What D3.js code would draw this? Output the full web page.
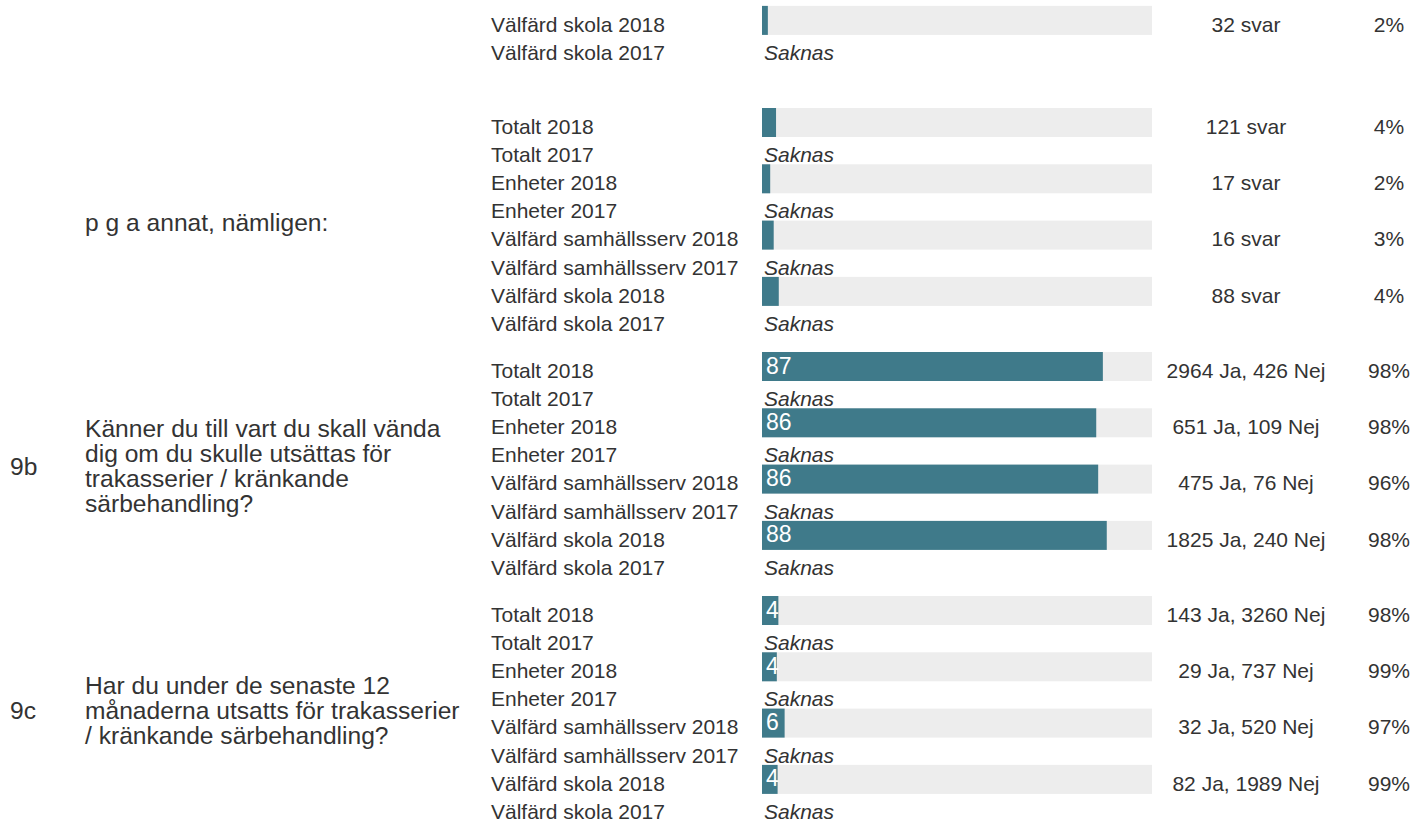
<!DOCTYPE html>
<html>
<head>
<meta charset="utf-8">
<script src="https://cdn.jsdelivr.net/npm/d3@7"></script>
<style>
  body { margin: 0; background: #fff; }
  svg { display: block; font-family: "Liberation Sans", Arial, sans-serif; }
  .txt { fill: #333; }
</style>
</head>
<body>
<svg id="chart"></svg>
<script>
// Groups shown for every question, each with a 2018 row and a 2017 row
const groups = ["Totalt", "Enheter", "Välfärd samhällsserv", "Välfärd skola"];
const years = ["2018", "2017"];

// Questions (first one is cut off at the top of the page)
const questionIds = ["", "", "9b", "9c"];
const questionLines = [
  [],
  ["p g a annat, nämligen:"],
  ["Känner du till vart du skall vända", "dig om du skulle utsättas för", "trakasserier / kränkande", "särbehandling?"],
  ["Har du under de senaste 12", "månaderna utsatts för trakasserier", "/ kränkande särbehandling?"],
];

// Bar values for 2018 (percent), null = row not visible
const values2018 = [
  [null, null, null, 1.5],
  [3.6, 2.1, 3.0, 4.3],
  [87.4, 85.7, 86.2, 88.4],
  [4.2, 3.8, 5.8, 4.0],
];
const showValueLabel = [false, false, true, true];

const counts2018 = [
  [null, null, null, "32 svar"],
  ["121 svar", "17 svar", "16 svar", "88 svar"],
  ["2964 Ja, 426 Nej", "651 Ja, 109 Nej", "475 Ja, 76 Nej", "1825 Ja, 240 Nej"],
  ["143 Ja, 3260 Nej", "29 Ja, 737 Nej", "32 Ja, 520 Nej", "82 Ja, 1989 Nej"],
];
const responseRates2018 = [
  [null, null, null, "2%"],
  ["4%", "2%", "3%", "4%"],
  ["98%", "98%", "96%", "98%"],
  ["98%", "99%", "97%", "99%"],
];
const missingText = "Saknas";

class SurveyBars {
  constructor(_config) {
    this.config = {
      parentElement: _config.parentElement,
      containerWidth: _config.containerWidth || 1427,
      containerHeight: _config.containerHeight || 823,
      sectionTops: _config.sectionTops,
      rowStep: _config.rowStep || 28.15,
      barHeight: _config.barHeight || 29,
    };
    this.initVis();
  }

  initVis() {
    let vis = this;

    vis.svg = d3
      .select(vis.config.parentElement)
      .attr("width", vis.config.containerWidth)
      .attr("height", vis.config.containerHeight);

    // bar track runs from 762 to 1152
    vis.xScale = d3.scaleLinear().domain([0, 100]).range([762, 1152]);

    // row positions inside one question block
    vis.rowScale = d3
      .scaleBand()
      .domain(d3.range(groups.length * years.length))
      .range([0, groups.length * years.length * vis.config.rowStep]);

    vis.updateVis();
  }

  updateVis() {
    let vis = this;

    vis.rows = [];
    questionIds.forEach((q, si) => {
      groups.forEach((g, gi) => {
        if (values2018[si][gi] === null) return;
        years.forEach((yr, yi) => {
          vis.rows.push({
            section: si,
            label: `${g} ${yr}`,
            index: gi * 2 + yi,
            value: yi === 0 ? values2018[si][gi] : null,
            count: yi === 0 ? counts2018[si][gi] : null,
            rate: yi === 0 ? responseRates2018[si][gi] : null,
          });
        });
      });
    });

    vis.renderVis();
  }

  rowTop(d) {
    return this.config.sectionTops[d.section] + this.rowScale(d.index);
  }

  renderVis() {
    let vis = this;
    const bh = vis.config.barHeight;
    const textY = 25.8;

    const row = vis.svg
      .selectAll(".row")
      .data(vis.rows)
      .join("g")
      .attr("class", "row")
      .attr("transform", (d) => `translate(0,${vis.rowTop(d)})`);

    // row label
    row
      .append("text")
      .attr("class", "txt")
      .attr("x", 491)
      .attr("y", textY)
      .style("font-size", "21px")
      .text((d) => d.label);

    const withBar = row.filter((d) => d.value !== null);
    const missing = row.filter((d) => d.value === null);

    // grey track
    withBar
      .append("rect")
      .attr("x", vis.xScale(0))
      .attr("y", 0)
      .attr("width", vis.xScale(100) - vis.xScale(0))
      .attr("height", bh)
      .attr("fill", "#ededed");

    // value bar
    withBar
      .append("rect")
      .attr("x", vis.xScale(0))
      .attr("y", 0)
      .attr("width", (d) => vis.xScale(d.value) - vis.xScale(0))
      .attr("height", bh)
      .attr("fill", "#3f7a8a");

    withBar
      .filter((d) => showValueLabel[d.section])
      .append("text")
      .attr("x", vis.xScale(0) + 4)
      .attr("y", 21.5)
      .attr("fill", "#fff")
      .style("font-size", "23px")
      .text((d) => d3.format(".0f")(d.value));

    withBar
      .append("text")
      .attr("class", "txt")
      .attr("x", 1246)
      .attr("y", textY)
      .attr("text-anchor", "middle")
      .style("font-size", "21px")
      .text((d) => d.count);

    withBar
      .append("text")
      .attr("class", "txt")
      .attr("x", 1389)
      .attr("y", textY)
      .attr("text-anchor", "middle")
      .style("font-size", "21px")
      .text((d) => d.rate);

    missing
      .append("text")
      .attr("class", "txt")
      .attr("x", 764)
      .attr("y", textY)
      .style("font-size", "21px")
      .style("font-style", "italic")
      .text(missingText);

    // question id + text, centred on the block
    const blockMid = vis.rowScale.range()[1] / 2 + 2;
    const q = vis.svg
      .selectAll(".question")
      .data(questionIds.map((id, i) => ({ id, i, lines: questionLines[i] })))
      .join("g")
      .attr("class", "question")
      .attr("transform", (d) => `translate(0,${vis.config.sectionTops[d.i] + blockMid})`);

    q.append("text")
      .attr("class", "txt")
      .attr("x", 10)
      .attr("y", 8)
      .style("font-size", "24.6px")
      .text((d) => d.id);

    q.selectAll("text.qline")
      .data((d) => d.lines.map((l, k) => ({ l, k, n: d.lines.length })))
      .join("text")
      .attr("class", "txt qline")
      .attr("x", 85)
      .attr("y", (d) => (d.k - (d.n - 1) / 2) * 25 + 8)
      .style("font-size", "24.6px")
      .text((d) => d.l);
  }
}

new SurveyBars({
  parentElement: "#chart",
  sectionTops: [-163, 108, 352, 596],
});
</script>
</body>
</html>
